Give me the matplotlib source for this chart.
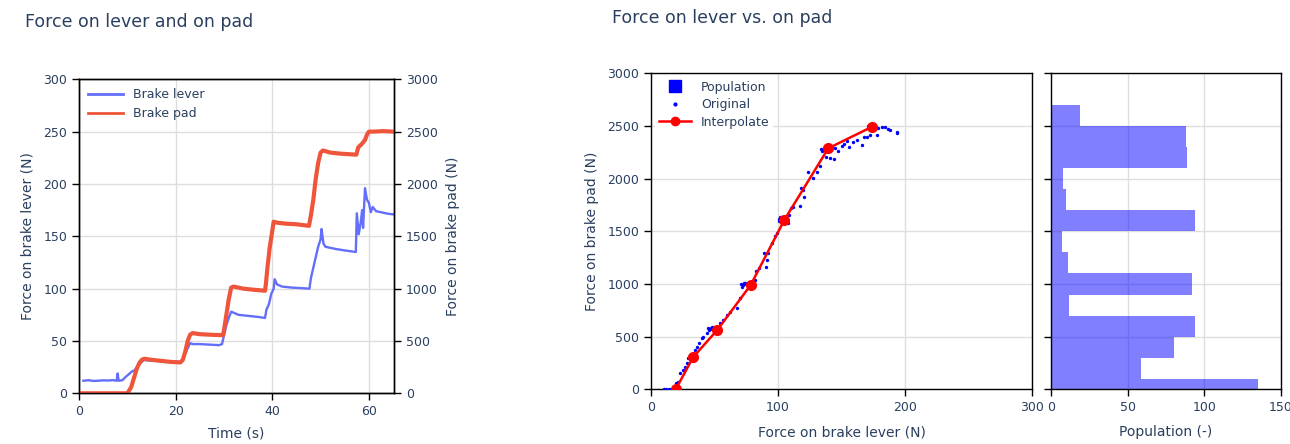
import matplotlib.pyplot as plt
from matplotlib.lines import Line2D

plt.rcParams['font.family'] = ['DejaVu Sans']

TXT = '#2a3f5f'
GRID = '#dedede'
BLUE = '#636efa'
RED = '#ef553b'

# time series
t_lever = [0.9, 2, 3, 4, 5, 6, 7, 7.8, 8.0, 8.2, 9.0, 9.5, 10, 10.5, 11, 11.5, 12, 12.5,
           13, 13.5, 14, 16, 18, 20, 21, 21.5, 22, 22.5, 23, 23.5, 25, 27, 29, 29.6, 30,
           30.5, 31, 31.5, 32, 33, 35, 37, 38.5, 38.8, 39.3, 39.8, 40.3, 40.5, 41, 42, 44,
           46, 47.7, 48, 48.5, 49, 49.5, 50, 50.2, 50.6, 51, 53, 55, 57.3, 57.5, 57.9,
           58.3, 58.6, 58.8, 59.2, 59.6, 60, 60.4, 60.8, 61.5, 62.5, 64, 65]
f_lever = [12, 12.5, 11.8, 12, 12.4, 12.2, 12.6, 12, 19, 12, 12.5, 15, 17, 19, 21, 22, 25, 28,
           30, 32, 31.5, 31, 30.5, 30, 30, 33, 38, 43, 48, 47, 47, 46.5, 46, 47, 55,
           65, 72, 78, 77, 75, 74, 73, 72, 80, 85, 95, 100, 109, 104, 102, 101,
           100.5, 100, 110, 120, 130, 140, 147, 157, 143, 140, 138, 136.5, 135, 172, 152,
           163, 175, 158, 196, 185, 182, 173, 178, 174, 173, 171.5, 171]

t_pad = [0.3, 2, 5, 8, 10, 10.3, 10.8, 11.2, 11.6, 12, 12.5, 13, 13.5, 15, 17, 19, 21, 21.5,
         22, 22.5, 23, 23.5, 25, 27, 29.8, 30, 30.5, 31, 31.5, 32, 34, 36, 38.5, 38.7, 39,
         39.5, 40, 40.3, 41, 43, 45, 47.6, 48, 48.5, 49, 49.5, 50, 50.5, 52, 54, 57.4,
         57.8, 58.5, 59.2, 59.6, 60, 61, 63, 65]
f_pad = [0, 0, 0, 0, 0, 20, 60, 120, 180, 240, 290, 320, 330, 320, 310, 300, 295, 320,
         400, 500, 560, 575, 565, 560, 555, 600, 750, 900, 1010, 1020, 1000, 990, 980, 1050, 1200,
         1400, 1550, 1640, 1630, 1620, 1615, 1600, 1700, 1850, 2050, 2200, 2300, 2320, 2300, 2290, 2280,
         2350, 2380, 2420, 2470, 2500, 2500, 2505, 2500]

# lever vs pad samples (Original)
orig_lever = [10, 12, 14, 16, 19.4, 21.5, 22.8, 25, 26.8, 28, 29.4, 30.7, 31.5, 32.5, 33, 34.6,
              36, 38, 40, 41, 43.8, 45, 46.5, 47.5, 49, 54, 57, 60, 62, 67.5, 70, 71, 72.5,
              74, 75, 82, 82.7, 85, 89, 90.5, 91, 92.4, 95, 97.6, 99.5, 100.5, 102, 103, 104,
              107.6, 108.7, 110, 112, 117, 117.8, 120, 120.7, 124, 127.8, 130.4, 133, 134,
              135.5, 137, 138, 140.9, 144, 144.9, 147.5, 150, 152, 154, 155.6, 159, 162,
              166, 167.7, 170, 171, 172.4, 173.5, 175, 176, 177.7, 179, 181.6, 184, 187,
              188, 193.4, 193.4, 31.8, 46, 48, 72, 73.5, 101, 101.5, 134.5, 136, 172, 174.5]
orig_pad = [0, 0, 0, 0, 57, 73, 152, 184, 215, 247, 294, 326, 320, 318, 310, 373,
            405, 437, 484, 500, 532, 580, 575, 585, 578, 627, 658, 706, 737, 769, 864, 1000, 990,
            1005, 995, 1038, 1127, 1150, 1291, 1158, 1228, 1291, 1386, 1456, 1488, 1620, 1630, 1610, 1625,
            1576, 1655, 1718, 1734, 1744, 1915, 1892, 1829, 2066, 2003, 2066, 2120, 2280,
            2270, 2290, 2209, 2200, 2187, 2288, 2266, 2310, 2326, 2358, 2297, 2351, 2367,
            2320, 2392, 2399, 2500, 2415, 2495, 2500, 2490, 2415, 2478, 2487, 2494, 2472,
            2462, 2446, 2430, 305, 565, 590, 975, 1010, 1600, 1640, 2265, 2295, 2510, 2505]

interp_lever = [19.5, 33.3, 52.2, 78.5, 105, 139.6, 174.3]
interp_pad = [0, 307, 563, 990, 1608, 2288, 2494]

# histogram of pad force, 200 N bins
bin_edges = [-100, 100, 300, 500, 700, 900, 1100, 1300, 1500, 1700, 1900, 2100, 2300, 2500, 2700]
population = [135, 59, 80, 94, 12, 92, 11, 7, 94, 10, 8, 89, 88, 19]

fig = plt.figure(figsize=(12.9, 4.44), dpi=100)


def style(ax):
    for s in ax.spines.values():
        s.set_color('black')
        s.set_linewidth(1)
    ax.tick_params(colors='black', labelcolor=TXT, labelsize=9, length=5, width=1)
    ax.grid(True, color=GRID, linewidth=1)
    ax.set_axisbelow(True)


# ---- left: time series
ax1 = fig.add_axes([79 / 1290, 1 - 393.3 / 444, 315 / 1290, 314 / 444])
ax2 = ax1.twinx()
style(ax1)
style(ax2)
ax2.grid(False)
ax1.plot(t_lever, f_lever, color=BLUE, lw=1.7)
ax2.plot(t_pad, f_pad, color=RED, lw=3.0)
ax1.set_xlim(0, 65.2)
ax1.set_ylim(0, 300)
ax2.set_ylim(0, 3000)
ax1.set_xticks([0, 20, 40, 60])
ax1.set_yticks(range(0, 301, 50))
ax2.set_yticks(range(0, 3001, 500))
ax1.set_xlabel('Time (s)', color=TXT, fontsize=10, labelpad=6)
ax1.set_ylabel('Force on brake lever (N)', color=TXT, fontsize=10, labelpad=6)
ax2.set_ylabel('Force on brake pad (N)', color=TXT, fontsize=10, labelpad=6)
handles = [Line2D([], [], color=BLUE, lw=2), Line2D([], [], color=RED, lw=2)]
ax2.legend(handles, ['Brake lever', 'Brake pad'], loc='upper left', frameon=False,
           fontsize=9, labelcolor=TXT, handlelength=2.8, borderaxespad=0.3)

# ---- middle: lever vs pad
ax3 = fig.add_axes([651 / 1290, 1 - 389.3 / 444, 381 / 1290, 316 / 444])
style(ax3)
ax3.scatter(orig_lever, orig_pad, s=6, color='blue', linewidths=0, zorder=3)
ax3.plot(interp_lever, interp_pad, '-o', color='red', lw=1.8, ms=7, zorder=4)
ax3.set_xlim(0, 300)
ax3.set_ylim(0, 3000)
ax3.set_xticks([0, 100, 200, 300])
ax3.set_yticks(range(0, 3001, 500))
ax3.set_xlabel('Force on brake lever (N)', color=TXT, fontsize=10, labelpad=8)
ax3.set_ylabel('Force on brake pad (N)', color=TXT, fontsize=10, labelpad=6)
leg_h = [Line2D([], [], ls='none', marker='s', ms=9, color='blue'),
         Line2D([], [], ls='none', marker='o', ms=2, color='blue'),
         Line2D([], [], color='red', lw=1.8, marker='o', ms=6)]
ax3.legend(leg_h, ['Population', 'Original', 'Interpolate'], loc='upper left', fontsize=9,
           labelcolor=TXT, frameon=True, facecolor='white', edgecolor='none', framealpha=1,
           handlelength=2.6, borderaxespad=0.3, borderpad=0.3, labelspacing=0.35)

# ---- right: population histogram
ax4 = fig.add_axes([1051 / 1290, 1 - 389.3 / 444, 229.7 / 1290, 316 / 444])
style(ax4)
ax4.barh(bin_edges[:-1], population, height=200, align='edge', color='blue', alpha=0.5,
         linewidth=0)
ax4.set_xlim(0, 150)
ax4.set_ylim(0, 3000)
ax4.set_xticks([0, 50, 100, 150])
ax4.set_yticks(range(0, 3001, 500))
ax4.set_yticklabels([])
ax4.set_xlabel('Population (-)', color=TXT, fontsize=10, labelpad=8)

fig.text(25 / 1290, 1 - 22 / 444, 'Force on lever and on pad', color=TXT, fontsize=12.5, va='center')
fig.text(612 / 1290, 1 - 18 / 444, 'Force on lever vs. on pad', color=TXT, fontsize=12.5, va='center')

fig.savefig('out.png', dpi=100, facecolor='white')
